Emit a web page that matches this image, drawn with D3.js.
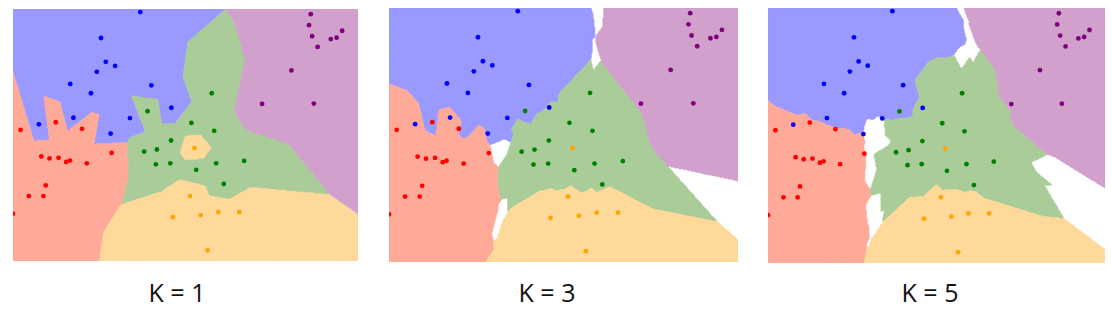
<html>
    <head>
        <style>
            body {
                margin: 0;
                background-color: white;
            }
            .label {
                font-family: "Open Sans", sans-serif;
                font-size: 25px;
                fill: #111;
            }
        </style>
    </head>
    <body>
        <svg width="1112" height="309"></svg>
    </body>
    <script src="https://d3js.org/d3.v7.min.js"></script>
    <script>
        // training points, feature space 0-100 (x) by 0-73 (y)
        var bluePts = [[36.9,72.1],[25.5,64.6],[26.9,57.7],[29.6,56.5],[24.3,54.8],[16.6,51.3],[22.6,48.6],
                       [40.1,50.9],[45.9,44.4],[17.5,41.5],[7.5,39.6],[33.9,41.4],[28.3,36.9]];
        var redPts = [[2.2,38.0],[12.4,40.2],[20.0,38.3],[28.6,31.3],[8.2,30.3],[10.6,29.7],[13.2,29.9],
                      [15.4,28.7],[16.5,29.1],[21.4,28.3],[9.5,21.9],[4.6,18.8],[8.8,18.8],[0.0,13.7]];
        var greenPts = [[39.0,43.4],[45.8,34.9],[38.0,31.7],[41.7,32.3],[41.4,28.0],[45.6,28.3],[57.6,48.6],
                        [51.7,40.0],[58.3,37.7],[58.9,28.3],[67.0,29.0],[53.1,26.4],[61.1,22.3]];
        var orangePts = [[46.3,12.7],[52.6,32.7],[51.3,18.8],[54.4,13.3],[59.5,14.2],[65.6,14.2],[56.4,3.1]];
        var purplePts = [[86.3,71.5],[85.8,68.3],[86.7,65.1],[88.3,62.0],[92.1,64.3],[93.8,64.7],[95.4,66.7],
                         [80.7,55.2],[72.2,45.5],[87.2,45.6]];

        var series = [bluePts, redPts, greenPts, orangePts, purplePts];
        var pointColors = ["#0000ff", "#ff0000", "#008000", "#ffa500", "#800080"];
        var regionColors = ["#9999ff", "#ffaa99", "#aacc99", "#ffd999", "#d1a0cc"];
        var kValues = [1, 3, 5];
        var kLabels = ["K = 1", "K = 3", "K = 5"];

        var xMax = 100, yMax = 73, step = 0.25;

        var panels = [
            { x0: 13, x1: 358, y0: 9, y1: 261, lx: 177 },
            { x0: 389, x1: 738, y0: 8, y1: 262, lx: 547 },
            { x0: 768, x1: 1105, y0: 8, y1: 263, lx: 930 }
        ];

        var train = [];
        series.forEach(function(pts, ci) {
            pts.forEach(function(p) { train.push({ x: p[0], y: p[1], c: ci }); });
        });

        // majority vote of the k nearest, -1 when there is a tie
        function classify(x, y, k) {
            var bestD = [], bestC = [];
            for (var i = 0; i < k; i++) { bestD.push(Infinity); bestC.push(-1); }
            train.forEach(function(t) {
                var d = (t.x - x) * (t.x - x) + (t.y - y) * (t.y - y);
                if (d < bestD[k - 1]) {
                    var j = k - 1;
                    while (j > 0 && bestD[j - 1] > d) {
                        bestD[j] = bestD[j - 1]; bestC[j] = bestC[j - 1]; j--;
                    }
                    bestD[j] = d; bestC[j] = t.c;
                }
            });
            var votes = [0, 0, 0, 0, 0];
            bestC.forEach(function(c) { votes[c]++; });
            var m = d3.max(votes);
            var winners = votes.filter(function(v) { return v === m; }).length;
            return winners === 1 ? votes.indexOf(m) : -1;
        }

        var svg = d3.select("svg");
        var defs = svg.append("defs");
        var nx = Math.round(xMax / step), ny = Math.round(yMax / step);

        panels.forEach(function(p, pi) {
            var k = kValues[pi];
            var xScale = d3.scaleLinear().domain([0, xMax]).range([p.x0, p.x1]),
                yScale = d3.scaleLinear().domain([0, yMax]).range([p.y1, p.y0]);

            defs.append("clipPath")
                .attr("id", "clip" + pi)
                .append("rect")
                .attr("x", p.x0)
                .attr("y", p.y0)
                .attr("width", p.x1 - p.x0)
                .attr("height", p.y1 - p.y0);

            var grid = new Int8Array(nx * ny);
            for (var j = 0; j < ny; j++) {
                for (var i = 0; i < nx; i++) {
                    grid[j * nx + i] = classify((i + 0.5) * step, yMax - (j + 0.5) * step, k);
                }
            }

            var path = d3.geoPath(d3.geoTransform({
                point: function(gx, gy) {
                    this.stream.point(xScale(gx * step), yScale(yMax - gy * step));
                }
            }));

            var g = svg.append("g").attr("clip-path", "url(#clip" + pi + ")");

            series.forEach(function(pts, ci) {
                var values = Array.from(grid, function(v) { return v === ci ? 1 : 0; });
                var contour = d3.contours().size([nx, ny]).thresholds([0.5])(values)[0];
                g.append("path")
                    .attr("d", path(contour))
                    .attr("fill", regionColors[ci])
                    .attr("stroke", regionColors[ci])
                    .attr("stroke-width", 0.6);
            });

            series.forEach(function(pts, ci) {
                g.selectAll(null)
                    .data(pts)
                    .enter()
                    .append("circle")
                    .attr("cx", function(d) { return xScale(d[0]); })
                    .attr("cy", function(d) { return yScale(d[1]); })
                    .attr("r", 2.4)
                    .attr("fill", pointColors[ci]);
            });

            svg.append("text")
                .attr("class", "label")
                .attr("x", p.lx)
                .attr("y", 302)
                .attr("text-anchor", "middle")
                .text(kLabels[pi]);
        });
    </script>
</html>
